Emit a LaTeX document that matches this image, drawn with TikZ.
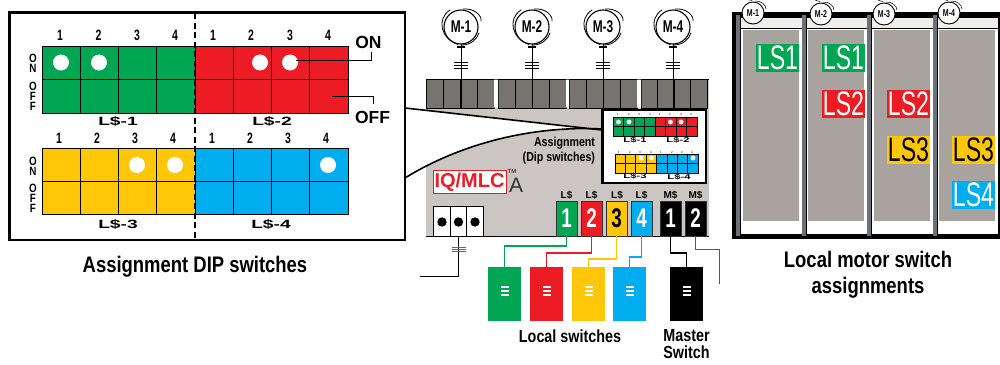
\documentclass[tikz,border=0pt]{standalone}
\usepackage{fontspec}
\usetikzlibrary{calc}
\setmainfont{Liberation Sans}
\newfontfamily\cond[FakeStretch=0.82]{Liberation Sans}
\newfontfamily\condb[FakeStretch=0.7]{Liberation Sans}
\newfontfamily\lsfont[FakeStretch=0.68]{Liberation Sans}
\newfontfamily\wide[FakeStretch=1.6]{Liberation Sans}
\definecolor{cgreen}{HTML}{00A651}
\definecolor{cred}{HTML}{ED1C24}
\definecolor{cyellow}{HTML}{FFC708}
\definecolor{cblue}{HTML}{00AEEF}
\definecolor{cpanel}{HTML}{CBC5C3}
\definecolor{cstrip}{HTML}{77736F}
\definecolor{cgray}{HTML}{A8A39F}
\definecolor{cbar}{HTML}{6E7079}
\definecolor{ctop}{HTML}{F0EEEC}
\tikzset{
  txt/.style={inner sep=0pt,outer sep=0pt,text=black,align=center},
  num/.style={txt,font=\condb\bfseries\fontsize{15}{15}\selectfont},
  vert/.style={txt,font=\cond\bfseries\fontsize{12}{10.3}\selectfont},
  lsname/.style={txt,font=\wide\bfseries\fontsize{12}{12}\selectfont},
  lsmini/.style={txt,font=\wide\bfseries\fontsize{7}{7}\selectfont},
  tiny/.style={txt,font=\fontsize{3}{3}\selectfont},
  caption/.style={txt,font=\cond\bfseries\fontsize{22.5}{26}\selectfont},
  midcap/.style={txt,font=\cond\bfseries\fontsize{17.5}{17}\selectfont},
  small/.style={txt,font=\cond\bfseries\fontsize{13}{15}\selectfont},
  onoff/.style={txt,font=\bfseries\fontsize{17.5}{17.5}\selectfont},
  term/.style={draw=black!80,line width=.8pt,minimum width=21pt,minimum height=35pt,inner sep=0pt,
     font=\condb\bfseries\fontsize{27}{27}\selectfont},
  termlab/.style={txt,font=\bfseries\fontsize{10}{10}\selectfont},
  swbox/.style={minimum width=33pt,minimum height=54pt,inner sep=0pt},
  motor/.style={circle,draw=black,line width=1.1pt,fill=white,minimum size=34pt,inner sep=0pt,
     font=\condb\bfseries\fontsize{17}{17}\selectfont},
  minimotor/.style={circle,draw=black,line width=.9pt,fill=white,minimum size=22pt,inner sep=0pt,
     font=\condb\bfseries\fontsize{10}{10}\selectfont},
  lsbox/.style={minimum width=43pt,minimum height=28pt,inner sep=0pt,
     font=\lsfont\fontsize{34}{34}\selectfont},
  gridline/.style={draw=black,line width=.8pt},
  swoosh/.style={draw=black,line width=.8pt,line cap=round},
}
\newcommand{\dipblock}[5]{% x0, x1, ytop, ybottom, colour
  \fill[#5] (#1,#3) rectangle (#2,#4);
  \pgfmathsetmacro{\dw}{(#2-#1)/4}
  \pgfmathsetmacro{\dm}{(#3+#4)/2}
  \draw[gridline] (#1,#3) rectangle (#2,#4);
  \draw[gridline] (#1,\dm) -- (#2,\dm);
  \foreach \k in {1,2,3} {\draw[gridline] ({#1+\k*\dw},#3) -- ({#1+\k*\dw},#4);}
}
\newcommand{\minigroup}[5]{% x0, x1, ytop, ybottom, colour (thin)
  \fill[#5] (#1,#3) rectangle (#2,#4);
  \pgfmathsetmacro{\dw}{(#2-#1)/4}
  \pgfmathsetmacro{\dm}{(#3+#4)/2}
  \draw[black,line width=.6pt] (#1,#3) rectangle (#2,#4);
  \draw[black,line width=.6pt] (#1,\dm) -- (#2,\dm);
  \foreach \k in {1,2,3} {\draw[black,line width=.6pt] ({#1+\k*\dw},#3) -- ({#1+\k*\dw},#4);}
}
\begin{document}
\begin{tikzpicture}[x=1pt,y=-1pt]
\useasboundingbox (0,0) rectangle (1000,364);
\fill[white] (0,0) rectangle (1000,364);

% ---------- controller panel
\fill[cpanel] (426,79) rectangle (709,236.5);
\draw[black,line width=.9pt] (426,236.5) -- (709,236.5);
\foreach \a/\b in {426/494,498/566,569/637,641/707}{
  \fill[cstrip] (\a,79) rectangle (\b,108);
  \pgfmathsetmacro{\w}{(\b-\a)/4}
  \draw[black,line width=.8pt] (\a,79) rectangle (\b,108);
  \foreach \k in {1,2,3}{\draw[black,line width=.8pt] ({\a+\k*\w},79) -- ({\a+\k*\w},108);}
}
\draw[black,line width=.9pt] (426,79) -- (709,79);
\fill[white] (494,79.5) rectangle (498,107.5) (566,79.5) rectangle (569,107.5) (637,79.5) rectangle (641,107.5);

% ---------- wedge
\fill[white] (405,108) -- (602,130) .. controls (520,125) and (450,150) .. (405,178) -- cycle;
\draw[black,line width=1.6pt] (405,108) -- (602,130);
\draw[black,line width=1.6pt] (602,129) .. controls (520,125) and (450,150) .. (405,178);

% ---------- large DIP box
\draw[black,line width=2.6pt,fill=white] (9.5,12.5) rectangle (405,240);
\dipblock{42}{195}{46.5}{113}{cgreen}
\dipblock{195}{348}{46.5}{113}{cred}
\dipblock{42}{195}{148.5}{214.5}{cyellow}
\dipblock{195}{348}{148.5}{214.5}{cblue}
\draw[black,line width=2.2pt,dash pattern=on 6pt off 3.5pt] (195,13) -- (195,240);
\foreach \x/\n/\t in {60/a1/1,98.5/a2/2,137/a3/3,175/a4/4,213/a5/1,251/a6/2,290/a7/3,328/a8/4}
  \node[num] (n\n) at (\x,35) {\t};
\foreach \x/\n/\t in {59/b1/1,97/b2/2,135/b3/3,173/b4/4,212/b5/1,250/b6/2,288/b7/3,326/b8/4}
  \node[num] (n\n) at (\x,138) {\t};
\foreach \x/\y/\n in {61/62.5/c1,99/62.5/c2,260/62.5/c3,290/62.5/c4,137/165/c5,175/165/c6,328/165/c7}
  \fill[white] (\x,\y) circle (8);
\node[vert] (v1) at (33,63) {O\\N};
\node[vert] (v2) at (33,96.5) {O\\F\\F};
\node[vert] (v3) at (33,166) {O\\N};
\node[vert] (v4) at (33,198.5) {O\\F\\F};
\node[lsname] (ls1lab) at (118,121) {L\$-1};
\node[lsname] (ls2lab) at (272,121) {L\$-2};
\node[lsname] (ls3lab) at (118,224) {L\$-3};
\node[lsname] (ls4lab) at (271,224) {L\$-4};
\node[onoff] (on) at (368.5,42) {ON};
\node[onoff] (off) at (372.5,117) {OFF};
\coordinate (onpt) at (296,60);
\coordinate (onend) at (371.5,52);
\coordinate (offpt) at (332,96);
\coordinate (offend) at (373,104);
\draw[black,line width=.7pt] (onpt) -| (onend);
\draw[black,line width=.7pt] (offpt) -| (offend);
\node[caption] (capdip) at (195,267) {Assignment DIP switches};

% ---------- motors
\foreach \i/\x in {1/461,2/532,3/603,4/673}{
  \draw[black,line width=1pt] (\x,44) -- (\x,108);
  \draw[black,line width=1.2pt] (\x-4,47) -- (\x+4,47);
  \foreach \y in {62,65,68}{\draw[black,line width=.7pt] (\x-7,\y) -- (\x+7,\y);}
  \node[motor] (m\i) at (\x,27) {M-\i};
  \draw[swoosh] ($(\x,27)+(-11,-17)$) .. controls ($(\x,27)+(-25,-8)$) and ($(\x,27)+(-20,12)$) .. ($(\x,27)+(-3,17.5)$);
  \draw[swoosh] ($(\x,27)+(2,-18)$) .. controls ($(\x,27)+(14,-19)$) and ($(\x,27)+(21,-11)$) .. ($(\x,27)+(20,-6)$);
  \draw[swoosh] ($(\x,27)+(1,18)$) .. controls ($(\x,27)+(10,18)$) and ($(\x,27)+(16,12)$) .. ($(\x,27)+(18,6)$);
}

% ---------- inset
\draw[black,line width=2.4pt,fill=white] (602.5,110) rectangle (706,183);
\minigroup{613}{655}{117}{136}{cgreen}
\minigroup{655}{697}{117}{136}{cred}
\minigroup{615}{656.5}{154}{173}{cyellow}
\minigroup{656.5}{698}{154}{173}{cblue}
\foreach \x/\y in {618.5/122,629/122,670.5/122,681/122,641/158,651.5/158,693/158}
  \fill[white] (\x,\y) circle (2.4);
\foreach \n/\x/\t in {t1/618/1,t2/629/2,t3/639/3,t4/650/4,t5/660/1,t6/670/2,t7/681/3,t8/691/4}
  \node[tiny] (tiny\n) at (\x,114.5) {\t};
\foreach \n/\x/\t in {u1/619/1,u2/630/2,u3/640/3,u4/651/4,u5/661/1,u6/672/2,u7/682/3,u8/692/4}
  \node[tiny] (tiny\n) at (\x,152) {\t};
\node[lsmini] (ia) at (635,140) {L\$-1};
\node[lsmini] (ib) at (678,140) {L\$-2};
\node[lsmini] (ic) at (635,176) {L\$-3};
\node[lsmini] (id) at (679,177.5) {L\$-4};
\node[small,anchor=east] (as1) at (595,143) {Assignment};
\node[small,anchor=east] (as2) at (595,158) {(Dip switches)};

% ---------- logo
\node[draw=cred,line width=.9pt,fill=white,text=cred,minimum width=73pt,minimum height=23.5pt,inner sep=0pt,
  font=\bfseries\fontsize{20}{20}\selectfont] (logo) at (469.5,182) {IQ/MLC};
\node[txt,font=\bfseries\fontsize{6}{6}\selectfont,text=black!75] (tm) at (512,171) {TM};
\node[txt,font=\fontsize{21}{21}\selectfont,text=black!80] (logoa) at (516,185) {A};

% ---------- power terminal
\foreach \x/\n in {442/p1,458.5/p2,475/p3}{
  \node[draw=black,line width=.8pt,fill=white,minimum width=16.7pt,minimum height=30pt,inner sep=0pt] (\n) at (\x,221.5) {};
  \fill[black] (\x,222) circle (4.7);
}
\coordinate (feed) at (420,276.5);
\draw[black,line width=.9pt] (p2.south) |- (feed);
\foreach \y in {247.5,249.5,251.5}{\draw[black!60,line width=.7pt] (451.5,\y) -- (466,\y);}

% ---------- terminals
\foreach \n/\x/\c/\tc/\t in {t1/566.5/cgreen/white/1,t2/591.5/cred/white/2,t3/616.5/cyellow/black/3,t4/641.5/cblue/white/4,t5/670.5/black/white/1,t6/695.5/black/white/2}
  \node[term,fill=\c,text=\tc] (\n) at (\x,218.5) {\t};
\foreach \n/\x/\t in {la/566.5/L\$,lb/591.5/L\$,lc/617/L\$,ld/641.5/L\$}
  \node[termlab] (\n) at (\x,195.5) {\t};
\foreach \n/\x/\t in {ma/670.5/M\$,mb/695.5/M\$}
  \node[termlab] (\n) at (\x,195.5) {\t};

% ---------- local switches
\foreach \n/\x/\c in {s1/504.5/cgreen,s2/546.5/cred,s3/588.5/cyellow,s4/629.5/cblue,s5/686.5/black}{
  \node[swbox,fill=\c] (\n) at (\x,294) {};
  \foreach \y in {287,291,295}{\draw[white,line width=1.1pt] (\x-4,\y) -- (\x+4,\y);}
}
\draw[cgreen,line width=1.1pt] (t1.south) -- (566.5,246) -| (s1.north);
\draw[cred,line width=1.1pt] (t2.south) -- (591.5,253) -| (s2.north);
\draw[cyellow,line width=1.1pt] (t3.south) -- (616.5,259) -| (s3.north);
\draw[cblue,line width=1.1pt] (t4.south) -- (641.5,257) -| (s4.north);
\draw[black,line width=1.2pt] (t5.south) -- (670.5,253) -| (s5.north);
\coordinate (m2end) at (719,284);
\draw[black!65,line width=.9pt] (t6.south) -- (695.5,249) -| (m2end);
\node[midcap] (loccap) at (570,336) {Local switches};
\node[midcap] (mascap) at (686.5,344.5) {Master\\Switch};

% ---------- right: motor switch assignments
\fill[black] (732,12) rectangle (1000,239);
\fill[white] (736,18) rectangle (998,234);
\fill[ctop] (736,18) rectangle (998,28);
\draw[black,line width=.6pt] (736,28.7) -- (998,28.7);
\foreach \x in {738,804,869,935}{
  \fill[black] (\x-2.5,14) rectangle (\x+2.5,239);
  \fill[cbar] (\x-1.7,15) rectangle (\x+1.7,236);
}
\foreach \a/\b in {743/799,808/864,874/930,939/995}
  \fill[cgray] (\a,30) rectangle (\b,221);
\foreach \n/\x/\y/\c/\tc/\t in {
  r1/777.5/58/cgreen/white/LS1, r2/843.5/58/cgreen/white/LS1,
  r3/843.5/104/cred/white/LS2, r4/908.5/104/cred/white/LS2,
  r5/908.5/150/cyellow/black/LS3, r6/973.5/150/cyellow/black/LS3,
  r7/973.5/195/cblue/white/LS4}
  \node[lsbox,fill=\c,text=\tc] (\n) at (\x,\y) {\t};
\foreach \i/\x/\y in {1/753/13,2/821/14,3/884/14,4/949/13}{
  \node[minimotor] (q\i) at (\x,\y) {M-\i};
  \draw[swoosh,line width=.5pt] ($(\x,\y)+(-1,-12.5)$) arc[start angle=95,end angle=190,radius=12.5];
  \draw[swoosh,line width=.5pt] ($(\x,\y)+(2,-12)$) .. controls ($(\x,\y)+(8,-12.5)$) and ($(\x,\y)+(13,-8)$) .. ($(\x,\y)+(13,-4)$);
}
\node[caption] (capr) at (868,274.5) {Local motor switch\\assignments};
\end{tikzpicture}
\end{document}
